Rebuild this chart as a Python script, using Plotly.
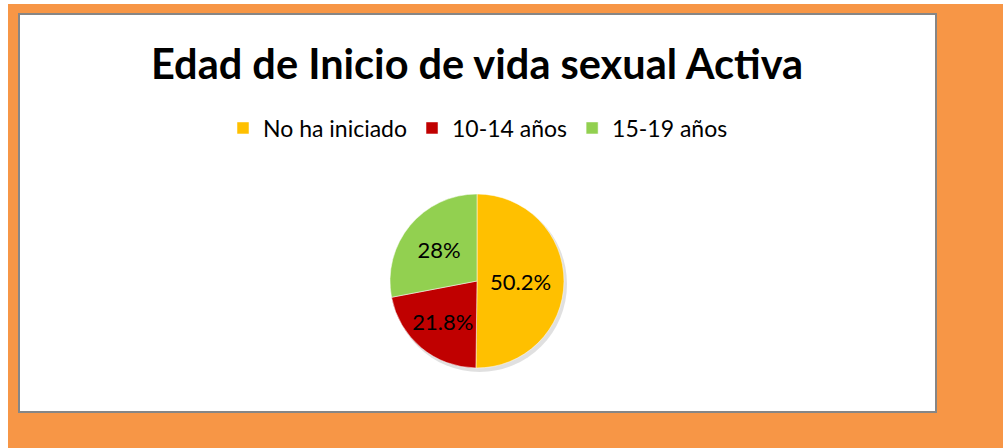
import plotly.graph_objects as go

labels = ["No ha iniciado", "10-14 años", "15-19 años"]
values = [50.2, 21.8, 28.0]
text_labels = ["50.2%", "21.8%", "28%"]
colors = ["#FFC000", "#C00000", "#92D050"]
title_text = "Edad de Inicio de vida sexual Activa"

W, H = 1003, 448
def px(x): return x / W
def py(y): return 1 - y / H

cx, cy, r = 477, 281, 87
FONT = "Lato, Open Sans, sans-serif"

fig = go.Figure()
fig.add_trace(go.Pie(
    labels=labels, values=values, text=text_labels,
    textinfo="text", textposition="inside", insidetextorientation="horizontal",
    sort=False, direction="clockwise", rotation=0,
    marker=dict(colors=colors, line=dict(color="white", width=0.5)),
    textfont=dict(family=FONT, size=22, color="black"),
    domain=dict(x=[px(cx - r), px(cx + r)], y=[py(cy + r), py(cy - r)]),
    hoverinfo="label+percent",
))

shapes = [
    dict(type="rect", xref="paper", yref="paper", x0=px(8), x1=px(1003), y0=py(448), y1=py(4),
         fillcolor="#F79646", line=dict(width=0), layer="below"),
    dict(type="rect", xref="paper", yref="paper", x0=px(19), x1=px(936), y0=py(412), y1=py(14),
         fillcolor="white", line=dict(color="#868686", width=2), layer="below"),
    dict(type="circle", xref="paper", yref="paper", x0=px(cx - r + 2), x1=px(cx + r + 3),
         y0=py(cy + r + 4), y1=py(cy - r + 2),
         fillcolor="rgba(0,0,0,0.12)", line=dict(width=0), layer="below"),
]

fig.update_layout(
    width=W, height=H,
    margin=dict(l=0, r=0, t=0, b=0),
    paper_bgcolor="white",
    shapes=shapes,
    showlegend=True,
    legend=dict(orientation="h", x=px(478), xanchor="center", y=py(128), yanchor="middle",
                font=dict(family=FONT, size=23, color="black"),
                bgcolor="rgba(0,0,0,0)", itemwidth=30, traceorder="normal"),
    annotations=[dict(text="<b>" + title_text + "</b>", x=px(477), y=py(63), xref="paper", yref="paper",
                      xanchor="center", yanchor="middle", showarrow=False,
                      font=dict(family=FONT, size=41.5, color="black"))],
)

fig.write_html("out.html", config={"displayModeBar": False},
               post_script="document.body.style.margin='0';document.body.style.overflow='hidden';")
